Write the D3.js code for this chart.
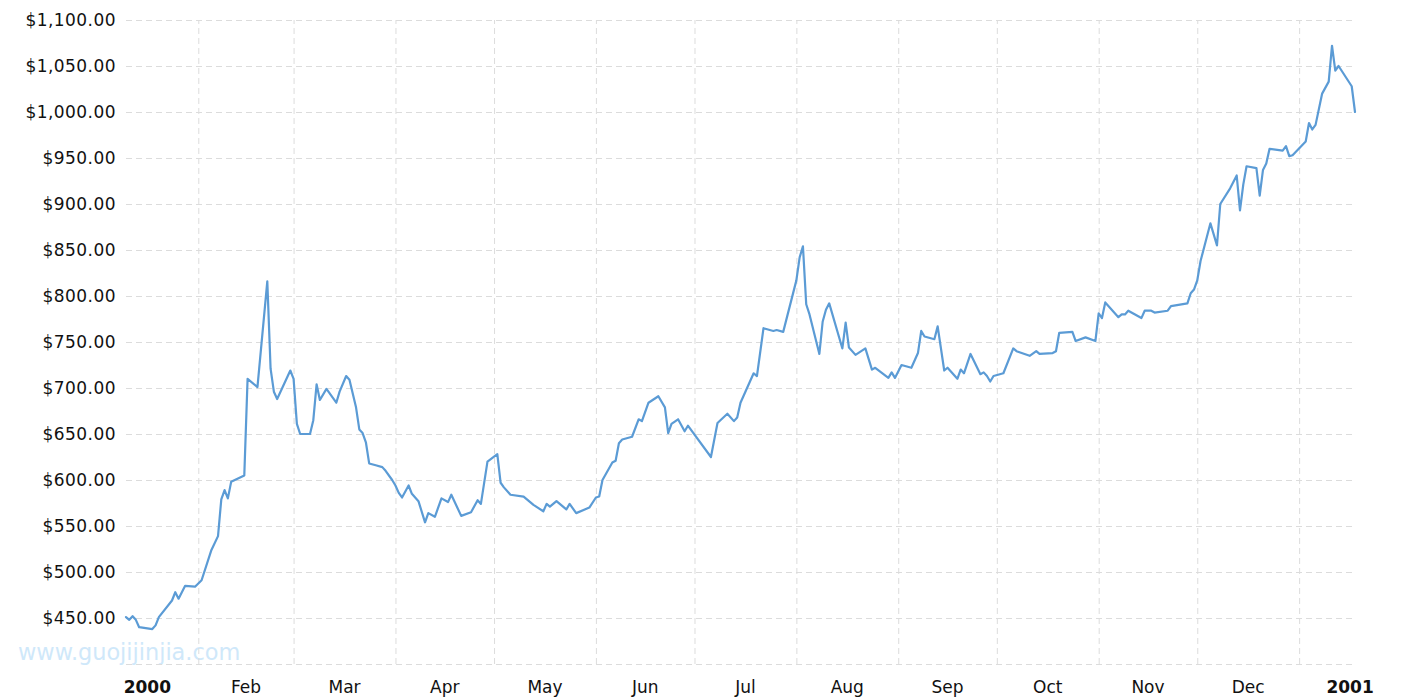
<!DOCTYPE html>
<html><head><meta charset="utf-8">
<script src="https://cdn.jsdelivr.net/npm/d3@7"></script>
<style>body{margin:0;background:#fff} svg{display:block}</style>
</head><body><svg id="c" width="1415" height="700"></svg>
<script>
const dates = [
"2000-01-10","2000-01-11","2000-01-12","2000-01-13","2000-01-14","2000-01-18","2000-01-19","2000-01-20","2000-01-24","2000-01-25",
"2000-01-26","2000-01-28","2000-01-31","2000-02-02","2000-02-05","2000-02-07","2000-02-08","2000-02-09","2000-02-10","2000-02-11",
"2000-02-15","2000-02-16","2000-02-19","2000-02-22","2000-02-23","2000-02-24","2000-02-25","2000-02-29","2000-03-01","2000-03-02",
"2000-03-03","2000-03-06","2000-03-07","2000-03-08","2000-03-09","2000-03-11","2000-03-14","2000-03-15","2000-03-17","2000-03-18",
"2000-03-20","2000-03-21","2000-03-22","2000-03-23","2000-03-24","2000-03-26","2000-03-28","2000-03-29","2000-03-31","2000-04-01",
"2000-04-02","2000-04-03","2000-04-05","2000-04-06","2000-04-08","2000-04-10","2000-04-11","2000-04-13","2000-04-15","2000-04-17",
"2000-04-18","2000-04-21","2000-04-24","2000-04-26","2000-04-27","2000-04-29","2000-05-02","2000-05-03","2000-05-04","2000-05-06",
"2000-05-10","2000-05-11","2000-05-13","2000-05-16","2000-05-17","2000-05-18","2000-05-20","2000-05-23","2000-05-24","2000-05-26",
"2000-05-30","2000-06-01","2000-06-02","2000-06-03","2000-06-06","2000-06-07","2000-06-08","2000-06-09","2000-06-12","2000-06-14",
"2000-06-15","2000-06-17","2000-06-20","2000-06-22","2000-06-23","2000-06-24","2000-06-26","2000-06-28","2000-06-29","2000-07-06",
"2000-07-08","2000-07-11","2000-07-13","2000-07-14","2000-07-15","2000-07-19","2000-07-20","2000-07-22","2000-07-25","2000-07-26",
"2000-07-28","2000-08-01","2000-08-02","2000-08-03","2000-08-04","2000-08-05","2000-08-08","2000-08-09","2000-08-10","2000-08-11",
"2000-08-15","2000-08-16","2000-08-17","2000-08-19","2000-08-22","2000-08-24","2000-08-25","2000-08-29","2000-08-30","2000-08-31",
"2000-09-02","2000-09-05","2000-09-07","2000-09-08","2000-09-09","2000-09-12","2000-09-13","2000-09-15","2000-09-16","2000-09-19",
"2000-09-20","2000-09-21","2000-09-23","2000-09-26","2000-09-27","2000-09-28","2000-09-29","2000-09-30","2000-10-03","2000-10-06",
"2000-10-07","2000-10-11","2000-10-13","2000-10-14","2000-10-18","2000-10-19","2000-10-20","2000-10-24","2000-10-25","2000-10-28",
"2000-10-31","2000-11-01","2000-11-02","2000-11-03","2000-11-07","2000-11-08","2000-11-09","2000-11-10","2000-11-14","2000-11-15",
"2000-11-17","2000-11-18","2000-11-22","2000-11-23","2000-11-28","2000-11-29","2000-11-30","2000-12-01","2000-12-02","2000-12-05",
"2000-12-07","2000-12-08","2000-12-11","2000-12-13","2000-12-14","2000-12-15","2000-12-16","2000-12-19","2000-12-20","2000-12-21",
"2000-12-22","2000-12-23","2000-12-27","2000-12-28","2000-12-29","2000-12-30","2001-01-03","2001-01-04","2001-01-05","2001-01-06",
"2001-01-08","2001-01-10","2001-01-11","2001-01-12","2001-01-13","2001-01-17","2001-01-18"
];
const prices = [
451,448,452,448,440,438,442,451,469,478,
471,485,484,491,524,539,579,589,580,598,
605,710,701,816,721,696,688,719,710,661,
650,650,665,704,687,699,684,696,713,709,
679,655,651,641,618,616,614,610,600,594,
586,581,594,585,577,554,564,560,580,576,
584,561,565,578,574,620,628,597,592,584,
582,579,573,566,574,571,577,568,574,564,
570,581,582,600,619,621,640,644,647,666,
664,684,691,679,651,661,666,653,659,625,
662,672,664,668,684,716,713,765,762,763,
761,817,842,854,791,780,737,772,785,792,
743,771,744,736,743,720,722,711,717,711,
725,722,738,762,756,753,767,719,722,710,
720,716,737,715,717,713,707,713,716,743,
740,735,740,737,738,740,760,761,751,755,
751,781,776,793,777,780,780,784,776,784,
784,782,784,789,792,803,807,817,838,879,
855,900,917,931,893,921,941,939,909,937,
944,960,958,963,952,953,968,988,981,986,
1020,1033,1072,1045,1050,1028,1000
];
const yTickValues = [400,450,500,550,600,650,700,750,800,850,900,950,1000,1050,1100];
const yTickLabels = ["","$450.00","$500.00","$550.00","$600.00","$650.00","$700.00","$750.00","$800.00","$850.00","$900.00","$950.00","$1,000.00","$1,050.00","$1,100.00"];
const monthStarts = ["2000-02-01","2000-03-01","2000-04-01","2000-05-01","2000-06-01","2000-07-01","2000-08-01","2000-09-01","2000-10-01","2000-11-01","2000-12-01","2001-01-01"];
const labelMonths = ["2000-01-01","2000-02-01","2000-03-01","2000-04-01","2000-05-01","2000-06-01","2000-07-01","2000-08-01","2000-09-01","2000-10-01","2000-11-01","2000-12-01","2001-01-01"];
const xLabels = ["2000","Feb","Mar","Apr","May","Jun","Jul","Aug","Sep","Oct","Nov","Dec","2001"];
const boldLabels = ["2000","2001"];
const watermark = "www.guojijinjia.com";

const parse = d3.utcParse("%Y-%m-%d");
const data = dates.map((d, i) => ({date: parse(d), value: prices[i]}));

const L = 126, R = 1355, T = 20, B = 664;
const svg = d3.select("#c");
const font = "'DejaVu Sans', Verdana, sans-serif";

const x = d3.scaleUtc().domain(d3.extent(data, d => d.date)).range([L, R]);
const y = d3.scaleLinear().domain([400, 1100]).range([B, T]);

// watermark
svg.append("text").attr("x", 18).attr("y", 660)
  .attr("font-family", font).attr("font-size", 22.4)
  .attr("fill", "#cfe8fa").text(watermark);

// horizontal grid + y labels
const yAxis = d3.axisLeft(y).tickValues(yTickValues)
  .tickSize(-(R - L)).tickPadding(10)
  .tickFormat((d, i) => yTickLabels[i]);
const gy = svg.append("g").attr("transform", `translate(${L},0)`).call(yAxis);
gy.select(".domain").remove();
gy.selectAll(".tick line").attr("stroke", "#dcdcdc").attr("stroke-dasharray", "6,4").attr("stroke-width", 1);
gy.selectAll(".tick text").attr("font-family", font).attr("font-size", 17)
  .attr("letter-spacing", 0.45).attr("fill", "#111");

// vertical grid
const xAxis = d3.axisBottom(x).tickValues(monthStarts.map(parse))
  .tickSize(-(B - T)).tickFormat("");
const gx = svg.append("g").attr("transform", `translate(0,${B})`).call(xAxis);
gx.select(".domain").remove();
gx.selectAll(".tick line").attr("stroke", "#dcdcdc").attr("stroke-dasharray", "6,4").attr("stroke-width", 1);

// x labels centered in month intervals
svg.append("g").selectAll("text").data(labelMonths).join("text")
  .attr("x", d => { const s = parse(d); const e = d3.utcMonth.offset(s, 1); return (x(s) + x(e)) / 2; })
  .attr("y", 693)
  .attr("text-anchor", "middle")
  .attr("font-family", font).attr("font-size", 17).attr("fill", "#111")
  .attr("font-weight", (d, i) => boldLabels.includes(xLabels[i]) ? "bold" : "normal")
  .text((d, i) => xLabels[i]);

// price line
const line = d3.line().x(d => x(d.date)).y(d => y(d.value));
svg.append("path").datum(data)
  .attr("fill", "none").attr("stroke", "#5b9bd5").attr("stroke-width", 2.2)
  .attr("stroke-linejoin", "round").attr("stroke-linecap", "round")
  .attr("d", line);
</script></body></html>
